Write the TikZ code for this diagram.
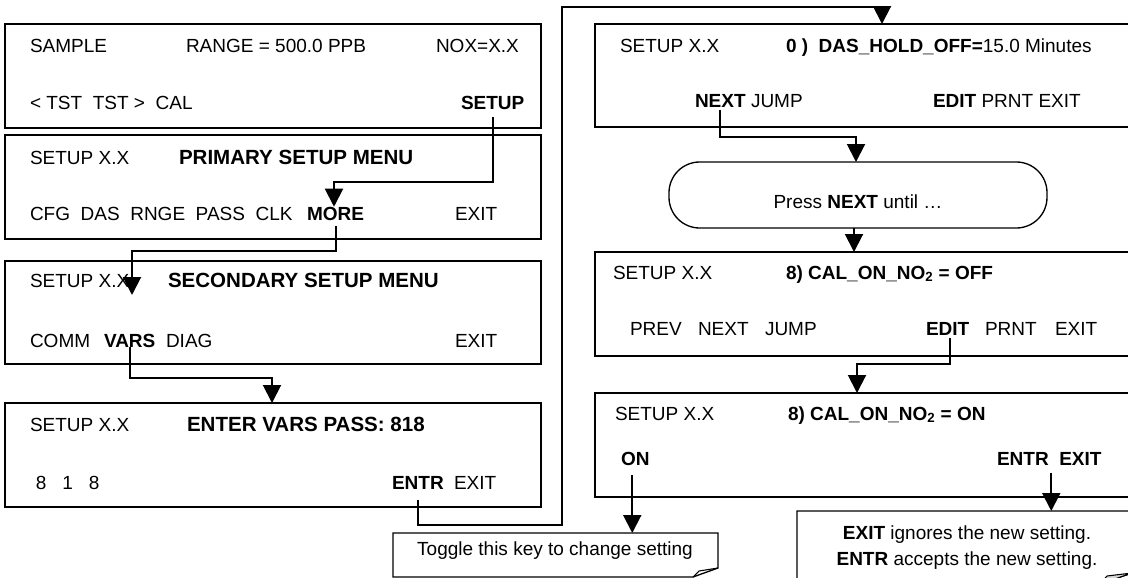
\documentclass[tikz,border=0pt]{standalone}
\usepackage{fontspec}
\setmainfont{Liberation Sans}
\usetikzlibrary{arrows.meta,calc}
\newcommand\fsnorm{\fontsize{14.25pt}{17pt}\selectfont}
\newcommand\fstitle{\fontsize{15.4pt}{18pt}\selectfont}
\tikzset{
  scr/.style={draw, line width=1pt, inner sep=0pt, outer sep=0pt},
  txt/.style={anchor=base west, inner sep=0pt, outer sep=0pt, font=\fsnorm},
  ttl/.style={txt, font=\fstitle\bfseries},
  bld/.style={txt, font=\fsnorm\bfseries},
  ctr/.style={anchor=base, inner sep=0pt, outer sep=0pt, font=\fsnorm},
  arr/.style={line width=1.5pt, -{Triangle[length=13.5pt,width=13.5pt]}},
  callout/.style={line width=1pt, fill=white}
}
\begin{document}
\begin{tikzpicture}[x=0.75pt,y=-0.75pt]
\useasboundingbox (0,0) rectangle (1128,578);
\clip (0,0) rectangle (1128,578);
\fill[white] (0,0) rectangle (1128,578);

% ---------- left column screens ----------
\node[scr, minimum width=536*0.75pt, minimum height=104*0.75pt] (b1) at (273,76) {};
\node[scr, minimum width=536*0.75pt, minimum height=104*0.75pt] (b2) at (273,187) {};
\node[scr, minimum width=536*0.75pt, minimum height=103*0.75pt] (b3) at (273,312.5) {};
\node[scr, minimum width=536*0.75pt, minimum height=104*0.75pt] (b4) at (273,455) {};

% B1
\node[txt] (b1sample) at (30,52) {SAMPLE};
\node[txt] (b1range) at (186,52) {RANGE = 500.0 PPB};
\node[txt] (b1nox) at (436,52) {NOX=X.X};
\node[txt] (b1tst) at (30,109) {<~TST~~TST~>~~CAL};
\node[bld] (b1setup) at (461,109) {SETUP};
% B2
\node[txt] (b2setup) at (30,164) {SETUP X.X};
\node[ttl] (b2title) at (179,164) {PRIMARY SETUP MENU};
\node[txt] (b2row) at (30,220) {CFG~~DAS~~RNGE~~PASS~~CLK};
\node[bld] (b2more) at (307,220) {MORE};
\node[txt] (b2exit) at (455,220) {EXIT};
% B3
\node[txt] (b3setup) at (30,287) {SETUP X.X};
\node[ttl] (b3title) at (168,287) {SECONDARY SETUP MENU};
\node[txt] (b3comm) at (30,347) {COMM};
\node[bld] (b3vars) at (104,347) {VARS};
\node[txt] (b3diag) at (166,347) {DIAG};
\node[txt] (b3exit) at (455,347) {EXIT};
% B4
\node[txt] (b4setup) at (30,431) {SETUP X.X};
\node[ttl] (b4title) at (187,431) {ENTER VARS PASS: 818};
\node[txt] (b4digits) at (36,489) {8~~~1~~~8};
\node[bld] (b4entr) at (392,489) {ENTR};
\node[txt] (b4exit) at (454,489) {EXIT};

% ---------- right column screens ----------
\node[scr, minimum width=545*0.75pt, minimum height=103*0.75pt] (r1) at (867.5,75.5) {};
\node[scr, rounded corners=23pt, minimum width=378*0.75pt, minimum height=66*0.75pt] (press) at (858,195) {};
\node[scr, minimum width=545*0.75pt, minimum height=104*0.75pt] (r2) at (867.5,304) {};
\node[scr, minimum width=545*0.75pt, minimum height=104*0.75pt] (r3) at (867.5,445) {};

% R1
\node[txt] (r1setup) at (620,52) {SETUP X.X};
\node[txt] (r1title) at (786,52) {\textbf{0 )~~DAS\_HOLD\_OFF=}15.0 Minutes};
\node[bld] (r1next) at (695,107) {NEXT};
\node[txt] (r1jump) at (751,107) {JUMP};
\node[txt] (r1edit) at (933,107) {\textbf{EDIT} PRNT EXIT};
% press
\node[ctr] (presstext) at (858,208) {Press \textbf{NEXT} until …};
% R2
\node[txt] (r2setup) at (613,279) {SETUP X.X};
\node[bld] (r2title) at (786,279) {8) CAL\_ON\_NO\textsubscript{2} = OFF};
\node[txt] (r2prev) at (630,335) {PREV};
\node[txt] (r2next) at (698,335) {NEXT};
\node[txt] (r2jump) at (765,335) {JUMP};
\node[bld] (r2edit) at (926,335) {EDIT};
\node[txt] (r2prnt) at (985,335) {PRNT};
\node[txt] (r2exit) at (1055,335) {EXIT};
% R3
\node[txt] (r3setup) at (615,420) {SETUP X.X};
\node[bld] (r3title) at (788,420) {8) CAL\_ON\_NO\textsubscript{2} = ON};
\node[bld] (r3on) at (621,465) {ON};
\node[bld] (r3ee) at (997,465) {ENTR~~EXIT};

% ---------- callouts ----------
\coordinate (tgnw) at (393,533);
\draw[callout] (tgnw) -- (718,533) -- (718,568) -- (693,577) -- (393,577) -- cycle;
\draw[line width=0.8pt] (693,577) -- (699,571) -- (718,568);
\node[ctr] (toggle) at (555,555) {Toggle this key to change setting};

\coordinate (exnw) at (797,511);
\draw[callout] (exnw) -- (1132,511) -- (1132,573) -- (1100,584) -- (797,584) -- cycle;
\draw[line width=0.8pt, fill=black!15] (1100,584) -- (1107,576) -- (1132,573) -- cycle;
\node[ctr] (exit1) at (967,539) {\textbf{EXIT} ignores the new setting.};
\node[ctr] (exit2) at (967,565) {\textbf{ENTR} accepts the new setting.};

% ---------- connectors ----------
\coordinate (a1c) at (334,182);
\draw[arr] ($(b1setup.south)+(0,8)$) |- (a1c) -- (a1c |- b2more.north);

\coordinate (a2c) at (132,251);
\coordinate (a2t) at (132,295);
\draw[arr] ($(b2more.south)+(0,6)$) |- (a2c) -- (a2t);

\coordinate (a3c) at (272,378);
\draw[arr] (b3vars.south) |- (a3c) -- (a3c |- b4.north);

\coordinate (a4a) at (562,525);
\coordinate (a4b) at (882,7);
\draw[arr] ($(b4entr.south)+(0,11)$) |- (a4a) |- (a4b) -- (a4b |- r1.north);

\coordinate (a5c) at (856,137);
\draw[arr] ($(r1next.south)+(0,3)$) |- (a5c) -- (a5c |- press.north);

\draw[arr] ($(press.south)+(-4,0)$) -- ($(press.south |- r2.north)+(-4,0)$);

\coordinate (a7c) at (857,364);
\draw[arr] ($(r2edit.south)+(2,3)$) |- (a7c) -- (a7c |- r3.north);

\draw[arr] ($(r3on.south)+(-3,10)$) -- ($(r3on.south |- tgnw)+(-3,0)$);

\draw[arr] ($(r3ee.south)+(2,8)$) -- ($(r3ee.south |- exnw)+(2,0)$);
\end{tikzpicture}
\end{document}
